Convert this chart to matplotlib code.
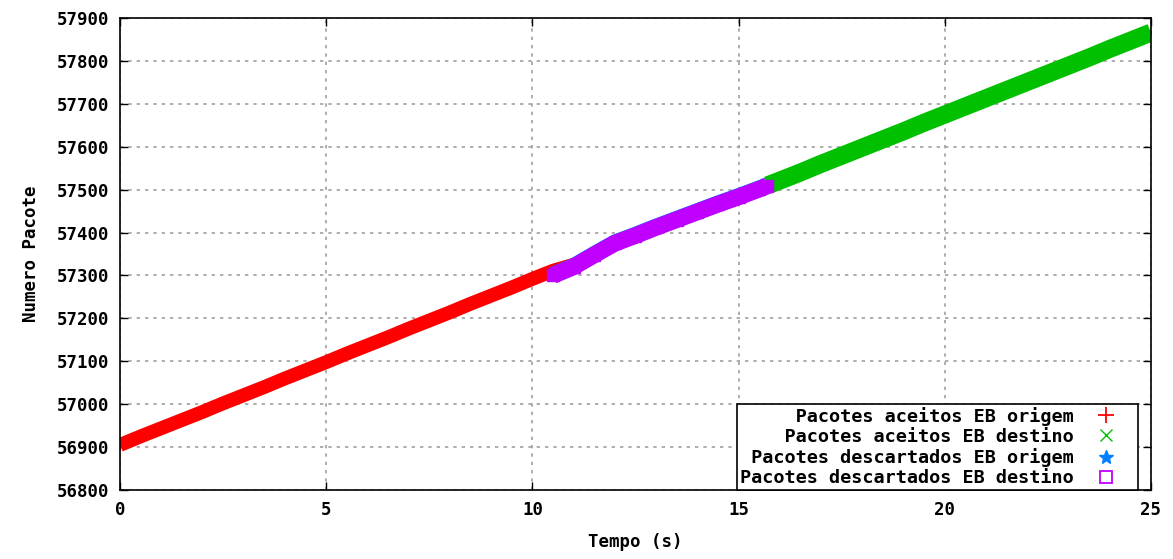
import matplotlib
matplotlib.use("Agg")
import matplotlib.pyplot as plt

# --- data (time in s, packet number) ---
red_t = [0, 0.5, 1, 1.5, 2, 2.5, 3, 3.5, 4, 4.5, 5, 5.5, 6, 6.5, 7, 7.5, 8, 8.5, 9, 9.5, 10, 10.5, 11.0]
red_y = [56905, 56925, 56944, 56963, 56982, 57002, 57021, 57040, 57060, 57079, 57098, 57118,
         57137, 57156, 57176, 57195, 57214, 57234, 57253, 57272, 57292, 57311, 57325]

green_t = [15.7, 16, 16.5, 17, 17.5, 18, 18.5, 19, 19.5, 20, 20.5, 21, 21.5, 22, 22.5, 23, 23.5, 24, 24.5, 25]
green_y = [57510, 57521, 57540, 57560, 57579, 57598, 57617, 57636, 57656, 57675, 57694, 57713,
           57732, 57751, 57770, 57789, 57808, 57828, 57847, 57866]

blue_t = [10.5, 11, 11.5, 12, 12.5, 13, 13.5, 14, 14.5, 15, 15.5, 15.7]
blue_y = [57301, 57321, 57349, 57376, 57394, 57413, 57431, 57449, 57467, 57484, 57502, 57509]

mag_t = [10.5, 11, 11.5, 12, 12.5, 13, 13.5, 14, 14.5, 15, 15.5, 15.7]
mag_y = [57300, 57320, 57348, 57375, 57393, 57412, 57430, 57448, 57466, 57483, 57501, 57509]

labels = ["Pacotes aceitos EB origem", "Pacotes aceitos EB destino",
          "Pacotes descartados EB origem", "Pacotes descartados EB destino"]
x_ticks = [0, 5, 10, 15, 20, 25]
y_ticks = list(range(56800, 57901, 100))

RED, GREEN, BLUE, MAG = "#ff0000", "#00c000", "#0080ff", "#c000ff"
FONT = "DejaVu Sans Mono"

fig = plt.figure(figsize=(11.73, 5.59), dpi=100)
ax = fig.add_axes([0.1023, 0.1234, 0.8789, 0.8444])

# bands (thick lines) + markers
ax.plot(red_t, red_y, color=RED, lw=10, solid_capstyle="butt", zorder=2)
ax.plot(red_t, red_y, ls="none", marker="+", ms=8, mew=1.5, color=RED, zorder=2)
ax.plot(green_t, green_y, color=GREEN, lw=13, solid_capstyle="butt", zorder=2)
ax.plot(green_t, green_y, ls="none", marker="x", ms=8, mew=1.5, color=GREEN, zorder=2)
ax.plot(blue_t, blue_y, color=BLUE, lw=12, solid_capstyle="butt", zorder=3)
ax.plot(blue_t, blue_y, ls="none", marker="*", ms=8, color=BLUE, zorder=3)
ax.plot(mag_t, mag_y, color=MAG, lw=12, solid_capstyle="butt", zorder=4)
ax.plot(mag_t, mag_y, ls="none", marker="s", ms=9, mfc=MAG, mec=MAG, zorder=4)

# legend handles (markers only)
n = max(len(s) for s in labels)
pad = [" " * (n - len(s)) + s for s in labels]
h1, = ax.plot([], [], ls="none", marker="+", ms=11, mew=1.3, color=RED)
h2, = ax.plot([], [], ls="none", marker="x", ms=9, mew=1.0, color=GREEN)
h3, = ax.plot([], [], ls="none", marker="*", ms=10, color=BLUE)
h4, = ax.plot([], [], ls="none", marker="s", ms=8, mfc="none", mew=1.3, mec=MAG)
leg = ax.legend([h1, h2, h3, h4], pad, loc="lower right",
                bbox_to_anchor=(0.987, 0.0), markerfirst=False, frameon=True, fancybox=False,
                framealpha=1, edgecolor="black", borderpad=0.15, labelspacing=0.12,
                handlelength=3.1, handletextpad=0.2, borderaxespad=0.0,
                prop={"family": FONT, "weight": "bold", "size": 13.3})
leg.get_frame().set_linewidth(1.2)
leg.set_zorder(10)

ax.set_xlim(0, 25)
ax.set_ylim(56800, 57900)
ax.set_xticks(x_ticks)
ax.set_yticks(y_ticks)
ax.tick_params(direction="in", length=6, width=1, top=True, right=True, pad=8)
for lab in ax.get_xticklabels() + ax.get_yticklabels():
    lab.set_fontfamily(FONT)
    lab.set_fontweight("bold")
    lab.set_fontsize(12.5)
ax.grid(True, color="#a0a0a0", linestyle=(0, (2, 3)), linewidth=1.2)
ax.set_axisbelow(True)
for s in ax.spines.values():
    s.set_linewidth(1.2)
    s.set_color("black")

ax.set_xlabel("Tempo (s)", fontfamily=FONT, fontweight="bold", fontsize=12.5, labelpad=10)
ax.set_ylabel("Numero Pacote", fontfamily=FONT, fontweight="bold", fontsize=12.5, labelpad=12)

fig.savefig("out.png", dpi=100)
